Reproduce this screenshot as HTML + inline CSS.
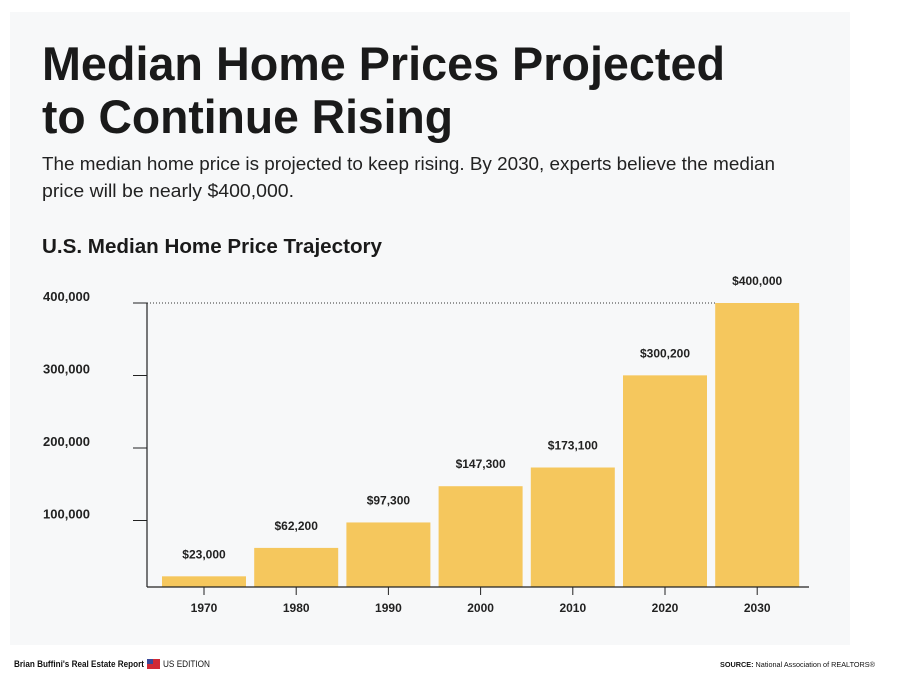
<!DOCTYPE html>
<html><head><meta charset="utf-8"><style>
html,body{margin:0;padding:0;background:#fff;width:902px;height:692px;overflow:hidden}
svg{display:block;font-family:"Liberation Sans",sans-serif}
</style></head><body>
<svg width="902" height="692" viewBox="0 0 902 692">
<rect x="10" y="12" width="840" height="633" fill="#f7f8f9"/>
<text x="42" y="80" font-size="47" font-weight="bold" fill="#1a1a1a" textLength="683" lengthAdjust="spacingAndGlyphs">Median Home Prices Projected</text>
<text x="42" y="133" font-size="47" font-weight="bold" fill="#1a1a1a" textLength="411" lengthAdjust="spacingAndGlyphs">to Continue Rising</text>
<text x="42" y="170" font-size="18" fill="#222" textLength="733" lengthAdjust="spacingAndGlyphs">The median home price is projected to keep rising. By 2030, experts believe the median</text>
<text x="42" y="197" font-size="18" fill="#222" textLength="252" lengthAdjust="spacingAndGlyphs">price will be nearly $400,000.</text>
<text x="42" y="253" font-size="20" font-weight="bold" fill="#1a1a1a" textLength="340" lengthAdjust="spacingAndGlyphs">U.S. Median Home Price Trajectory</text>
<g id="plot"></g>
<text x="14" y="667" font-size="9" font-weight="bold" fill="#111" textLength="130" lengthAdjust="spacingAndGlyphs">Brian Buffini's Real Estate Report</text>
<rect x="147" y="659" width="13" height="10" fill="#d02a36"/>
<rect x="147" y="659" width="6" height="5" fill="#3a4a9a"/>
<text x="163" y="667" font-size="9" fill="#111" textLength="47" lengthAdjust="spacingAndGlyphs">US EDITION</text>
<text x="720" y="667" font-size="7" fill="#111" textLength="155" lengthAdjust="spacingAndGlyphs"><tspan font-weight="bold">SOURCE:</tspan> National Association of REALTORS®</text>
</svg>
<script>
const categories = ["1970","1980","1990","2000","2010","2020","2030"];
const values = [23000, 62200, 97300, 147300, 173100, 300200, 400000];
const valueLabels = ["$23,000","$62,200","$97,300","$147,300","$173,100","$300,200","$400,000"];
const yTicks = [100000, 200000, 300000, 400000];
const yTickLabels = ["100,000","200,000","300,000","400,000"];

const NS = "http://www.w3.org/2000/svg";
const g = document.getElementById('plot');
const x0 = 147, x1 = 809, yZero = 593, yTop = 303, yMax = 400000, axisY = 587;
function yScale(v){ return yZero - (v / yMax) * (yZero - yTop); }
const step = 92.2, firstCenter = 204, barW = 84;
function xCenter(i){ return firstCenter + i * step; }
function mk(tag, attrs){ const e = document.createElementNS(NS, tag); for (const k in attrs) e.setAttribute(k, attrs[k]); g.appendChild(e); return e; }

const dl = mk('line', {x1: x0, x2: xCenter(6) - barW/2, y1: yScale(yMax), y2: yScale(yMax), stroke: '#333', 'stroke-width': 1, 'stroke-dasharray': '1,2'});



values.forEach((v, i) => {
  const cx = xCenter(i);
  const top = yScale(v);
  const r = mk('rect', {x: cx - barW/2, y: top, width: barW, height: axisY - top, fill: '#f5c75d'});
  
  
  const t = mk('text', {x: cx, y: top - 18, 'text-anchor': 'middle', 'font-size': 12, 'font-weight': 'bold', fill: '#222'});
  t.textContent = valueLabels[i];
  
  
  const tk = mk('line', {x1: cx, x2: cx, y1: axisY, y2: axisY + 8, stroke: '#222', 'stroke-width': 1});
  
  
  const xl = mk('text', {x: cx, y: 612, 'text-anchor': 'middle', 'font-size': 12, 'font-weight': 'bold', fill: '#222'});
  xl.textContent = categories[i];
  
  
});

yTicks.forEach((v, i) => {
  const y = yScale(v);
  const tk = mk('line', {x1: 133, x2: x0, y1: y, y2: y, stroke: '#222', 'stroke-width': 1});
  
  
  const l = mk('text', {x: 43, y: y - 2, 'font-size': 13, 'font-weight': 'bold', fill: '#222'});
  l.textContent = yTickLabels[i];
  
  
});

const ya = mk('line', {x1: x0, x2: x0, y1: yTop, y2: axisY, stroke: '#222', 'stroke-width': 1.2});


const xa = mk('line', {x1: x0, x2: x1, y1: axisY, y2: axisY, stroke: '#222', 'stroke-width': 1.2});


</script>
</body></html>
